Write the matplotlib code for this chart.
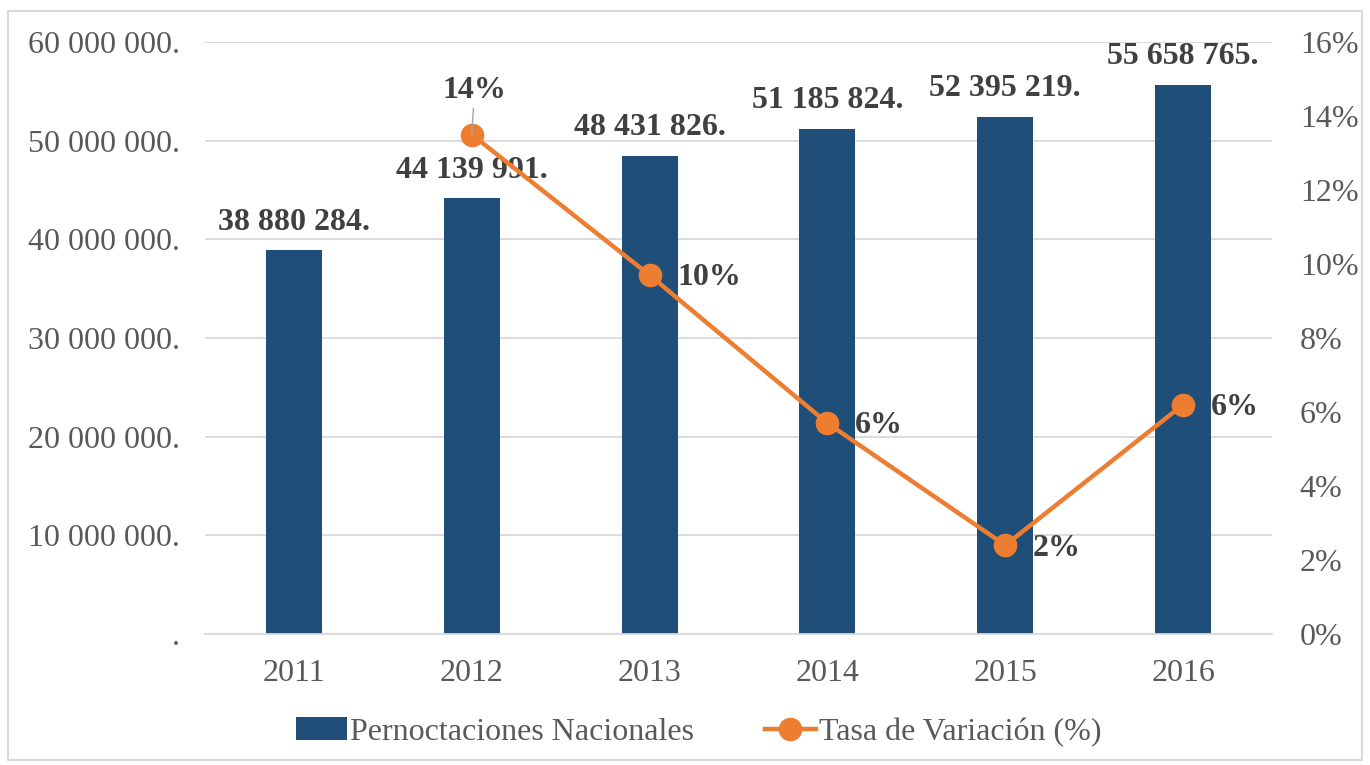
import numpy as np
import matplotlib.pyplot as plt
from matplotlib.patches import Rectangle

#--------------------- Data ---------------------
years = ["2011", "2012", "2013", "2014", "2015", "2016"]
pernoctaciones = [38880284, 44139991, 48431826, 51185824, 52395219, 55658765]
tasa = [None, 13.5, 9.7, 5.7, 2.4, 6.2]
tasa_labels = ["", "14%", "10%", "6%", "2%", "6%"]

plt.rcParams['font.family'] = ['Liberation Serif', 'DejaVu Serif']

bar_color = "#1f4e79"
line_color = "#ed7d31"
grid_color = "#d9d9d9"
tick_color = "#595959"
label_color = "#404040"
fs = 23

def fmt_big(v):
	if v == 0:
		return "."
	return f"{v:,.0f}".replace(",", " ") + "."

fig = plt.figure(figsize=(13.7, 7.65), dpi=100)
fig.patches.append(Rectangle((8/1370, 5/765), 1354/1370, 749/765, transform=fig.transFigure,
	fill=False, edgecolor=grid_color, linewidth=1.5))

ax = fig.add_axes([0.1496, 0.1712, 0.7789, 0.7739])
x = np.arange(len(years))
bars = ax.bar(x, pernoctaciones, width=0.315, color=bar_color, zorder=2, label="Pernoctaciones Nacionales")
ax.set_ylim(0, 60000000)
ax.set_xlim(-0.5, len(years) - 0.5)
ax.set_yticks(np.arange(0, 60000001, 10000000))
ax.set_yticklabels([fmt_big(v) for v in np.arange(0, 60000001, 10000000)])
ax.set_xticks(x)
ax.set_xticklabels(years)
ax.yaxis.grid(True, color=grid_color, linewidth=1.3, zorder=0)
ax.set_axisbelow(True)
for s in ["top", "right", "left"]:
	ax.spines[s].set_visible(False)
ax.spines["bottom"].set_color(grid_color)
ax.spines["bottom"].set_linewidth(1.3)
ax.tick_params(axis="both", length=0, labelsize=fs, labelcolor=tick_color)
ax.tick_params(axis="y", pad=18)
ax.tick_params(axis="x", pad=18)

# etiquetas de las barras
for xi, v in zip(x, pernoctaciones):
	ax.annotate(fmt_big(v), (xi, v), xytext=(0, 10), textcoords="offset points",
		ha="center", va="bottom", fontsize=fs, fontweight="bold", color=label_color)

ax2 = ax.twinx()
tx = [xi for xi, t in zip(x, tasa) if t is not None]
ty = [t for t in tasa if t is not None]
ax2.plot(tx, ty, color=line_color, linewidth=3.2, marker="o", markersize=16, zorder=3,
	label="Tasa de Variación (%)")
ax2.set_ylim(0, 16)
ax2.set_yticks(np.arange(0, 17, 2))
ax2.set_yticklabels([f"{v}%" for v in range(0, 17, 2)])
for s in ["top", "right", "left", "bottom"]:
	ax2.spines[s].set_visible(False)
ax2.tick_params(axis="y", length=0, labelsize=fs, labelcolor=tick_color, pad=20)

for xi, t, lab in zip(x, tasa, tasa_labels):
	if t is None:
		continue
	if lab == "14%":
		ax2.annotate(lab, (xi, t), xytext=(2, 21), textcoords="offset points",
			ha="center", va="bottom", fontsize=fs, fontweight="bold", color=label_color, zorder=5,
			arrowprops=dict(arrowstyle="-", color="#a6a6a6", lw=1, shrinkA=0, shrinkB=0))
	else:
		ax2.annotate(lab, (xi, t), xytext=(20, -2), textcoords="offset points",
			ha="left", va="center", fontsize=fs, fontweight="bold", color=label_color, zorder=5)

h1, l1 = ax.get_legend_handles_labels()
h2, l2 = ax2.get_legend_handles_labels()
fig.legend(h1 + h2, l1 + l2, loc="center", bbox_to_anchor=(0.51, 0.043), ncol=2, frameon=False,
	fontsize=fs, labelcolor=tick_color, handlelength=1.6, handletextpad=0.1, columnspacing=2.2)

fig.savefig("out.png", dpi=100)
